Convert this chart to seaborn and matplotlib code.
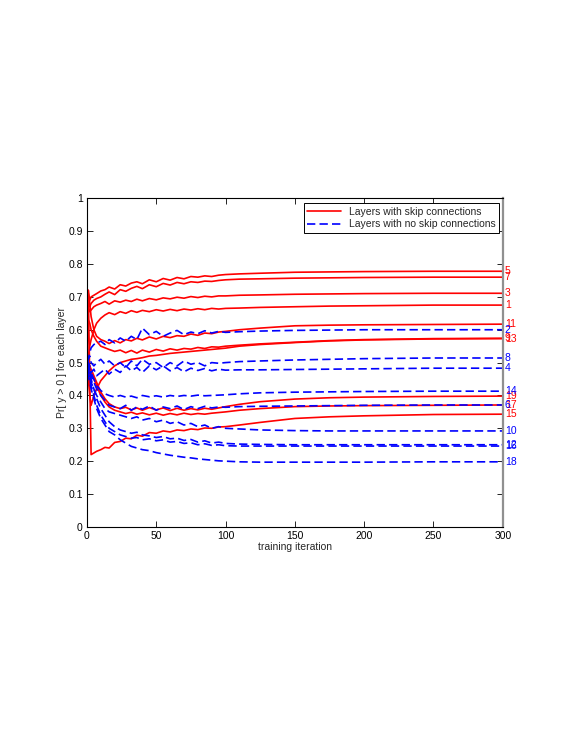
import numpy as np
import seaborn as sns
import matplotlib
matplotlib.use("Agg")
import matplotlib.pyplot as plt

ITER = [0, 1, 2, 3, 5, 7, 10, 13, 16, 20,
        24, 28, 32, 36, 40, 45, 50, 55, 60, 65,
        70, 75, 80, 85, 90, 95, 100, 110, 125, 150,
        175, 200, 250, 300]

# layers with skip connections (odd layers, red)
layer01 = [0.50, 0.52, 0.55, 0.57, 0.60, 0.62, 0.635, 0.645, 0.652, 0.646,
           0.655, 0.650, 0.658, 0.653, 0.659, 0.655, 0.661, 0.657, 0.662, 0.658,
           0.663, 0.660, 0.664, 0.661, 0.665, 0.663, 0.665, 0.666, 0.668, 0.670,
           0.672, 0.673, 0.675, 0.675]
layer03 = [0.62, 0.67, 0.655, 0.66, 0.67, 0.675, 0.68, 0.686, 0.678, 0.688,
           0.684, 0.690, 0.686, 0.693, 0.688, 0.695, 0.691, 0.697, 0.694, 0.699,
           0.696, 0.701, 0.698, 0.702, 0.700, 0.703, 0.703, 0.705, 0.706, 0.708,
           0.709, 0.710, 0.711, 0.711]
layer05 = [0.66, 0.71, 0.69, 0.70, 0.705, 0.71, 0.718, 0.722, 0.73, 0.724,
           0.737, 0.733, 0.742, 0.746, 0.740, 0.752, 0.746, 0.756, 0.751, 0.759,
           0.755, 0.762, 0.760, 0.764, 0.762, 0.766, 0.768, 0.77, 0.772, 0.775,
           0.776, 0.777, 0.778, 0.778]
layer07 = [0.64, 0.69, 0.67, 0.68, 0.69, 0.695, 0.70, 0.708, 0.715, 0.707,
           0.722, 0.717, 0.726, 0.732, 0.725, 0.737, 0.731, 0.741, 0.736, 0.744,
           0.740, 0.746, 0.744, 0.748, 0.747, 0.750, 0.752, 0.754, 0.755, 0.757,
           0.758, 0.759, 0.76, 0.76]
layer09 = [0.62, 0.63, 0.62, 0.60, 0.58, 0.565, 0.55, 0.545, 0.54, 0.534,
           0.538, 0.530, 0.537, 0.529, 0.538, 0.532, 0.540, 0.535, 0.542, 0.538,
           0.543, 0.541, 0.546, 0.543, 0.548, 0.547, 0.55, 0.553, 0.557, 0.562,
           0.567, 0.57, 0.573, 0.574]
layer11 = [0.62, 0.72, 0.68, 0.64, 0.60, 0.58, 0.57, 0.565, 0.558, 0.567,
           0.560, 0.570, 0.566, 0.574, 0.569, 0.578, 0.572, 0.580, 0.576, 0.582,
           0.580, 0.587, 0.583, 0.590, 0.588, 0.593, 0.595, 0.60, 0.605, 0.612,
           0.614, 0.615, 0.616, 0.617]
layer13 = [0.50, 0.45, 0.40, 0.37, 0.40, 0.42, 0.445, 0.46, 0.475, 0.49,
           0.50, 0.505, 0.51, 0.512, 0.515, 0.52, 0.522, 0.525, 0.528, 0.53,
           0.532, 0.534, 0.536, 0.538, 0.54, 0.542, 0.544, 0.55, 0.555, 0.561,
           0.566, 0.569, 0.572, 0.573]
layer15 = [0.48, 0.72, 0.45, 0.22, 0.225, 0.23, 0.235, 0.242, 0.24, 0.257,
           0.260, 0.270, 0.268, 0.279, 0.276, 0.287, 0.285, 0.292, 0.289, 0.295,
           0.293, 0.298, 0.296, 0.301, 0.300, 0.304, 0.305, 0.31, 0.318, 0.33,
           0.335, 0.338, 0.342, 0.343]
layer17 = [0.49, 0.49, 0.48, 0.47, 0.45, 0.43, 0.40, 0.38, 0.365, 0.355,
           0.35, 0.345, 0.349, 0.343, 0.347, 0.341, 0.346, 0.340, 0.345, 0.341,
           0.346, 0.342, 0.345, 0.343, 0.346, 0.348, 0.35, 0.355, 0.36, 0.366,
           0.368, 0.369, 0.37, 0.371]
layer19 = [0.50, 0.50, 0.49, 0.48, 0.46, 0.44, 0.41, 0.39, 0.375, 0.365,
           0.36, 0.364, 0.356, 0.362, 0.355, 0.363, 0.356, 0.362, 0.354, 0.361,
           0.355, 0.360, 0.356, 0.361, 0.358, 0.362, 0.366, 0.373, 0.381, 0.389,
           0.393, 0.395, 0.397, 0.398]

# layers without skip connections (even layers, blue)
layer02 = [0.50, 0.51, 0.53, 0.545, 0.555, 0.56, 0.565, 0.555, 0.57, 0.56,
           0.575, 0.565, 0.58, 0.57, 0.605, 0.585, 0.595, 0.58, 0.59, 0.598,
           0.585, 0.593, 0.588, 0.597, 0.59, 0.595, 0.592, 0.594, 0.596, 0.598,
           0.599, 0.60, 0.60, 0.60]
layer04 = [0.49, 0.50, 0.49, 0.47, 0.48, 0.46, 0.47, 0.48, 0.465, 0.48,
           0.47, 0.49, 0.475, 0.485, 0.47, 0.49, 0.478, 0.49, 0.475, 0.485,
           0.472, 0.483, 0.476, 0.482, 0.475, 0.48, 0.477, 0.478, 0.478, 0.479,
           0.48, 0.481, 0.483, 0.483]
layer06 = [0.51, 0.50, 0.48, 0.46, 0.44, 0.42, 0.40, 0.385, 0.37, 0.365,
           0.36, 0.37, 0.355, 0.365, 0.358, 0.368, 0.355, 0.365, 0.36, 0.368,
           0.357, 0.366, 0.36, 0.367, 0.362, 0.365, 0.364, 0.366, 0.367, 0.368,
           0.369, 0.37, 0.371, 0.371]
layer08 = [0.50, 0.51, 0.52, 0.50, 0.49, 0.50, 0.51, 0.495, 0.505, 0.49,
           0.50, 0.485, 0.505, 0.49, 0.51, 0.495, 0.50, 0.485, 0.50, 0.49,
           0.505, 0.495, 0.50, 0.49, 0.50, 0.498, 0.50, 0.503, 0.505, 0.508,
           0.51, 0.512, 0.514, 0.514]
layer10 = [0.49, 0.48, 0.46, 0.44, 0.42, 0.40, 0.38, 0.36, 0.35, 0.345,
           0.34, 0.335, 0.33, 0.335, 0.325, 0.33, 0.32, 0.325, 0.315, 0.32,
           0.31, 0.315, 0.305, 0.31, 0.30, 0.305, 0.30, 0.298, 0.295, 0.293,
           0.292, 0.292, 0.292, 0.292]
layer12 = [0.50, 0.49, 0.47, 0.45, 0.42, 0.39, 0.36, 0.34, 0.32, 0.305,
           0.295, 0.29, 0.285, 0.288, 0.28, 0.277, 0.272, 0.275, 0.268, 0.27,
           0.263, 0.266, 0.258, 0.262, 0.255, 0.258, 0.254, 0.252, 0.251, 0.25,
           0.25, 0.25, 0.25, 0.25]
layer14 = [0.50, 0.49, 0.48, 0.47, 0.45, 0.43, 0.415, 0.405, 0.40, 0.395,
           0.40, 0.395, 0.398, 0.393, 0.40, 0.396, 0.399, 0.395, 0.40, 0.397,
           0.40, 0.398, 0.401, 0.399, 0.40, 0.401, 0.402, 0.405, 0.408, 0.41,
           0.411, 0.412, 0.413, 0.413]
layer16 = [0.48, 0.47, 0.45, 0.43, 0.40, 0.37, 0.34, 0.32, 0.30, 0.29,
           0.28, 0.275, 0.27, 0.272, 0.265, 0.268, 0.262, 0.265, 0.258, 0.26,
           0.254, 0.256, 0.25, 0.253, 0.248, 0.25, 0.247, 0.246, 0.246, 0.246,
           0.246, 0.246, 0.246, 0.246]
layer18 = [0.47, 0.46, 0.44, 0.42, 0.39, 0.36, 0.33, 0.31, 0.29, 0.28,
           0.265, 0.255, 0.245, 0.24, 0.235, 0.232, 0.226, 0.222, 0.218, 0.215,
           0.212, 0.21, 0.207, 0.205, 0.203, 0.201, 0.20, 0.198, 0.197, 0.197,
           0.197, 0.197, 0.198, 0.198]

skipLayers = [(1, layer01), (3, layer03), (5, layer05), (7, layer07), (9, layer09),
              (11, layer11), (13, layer13), (15, layer15), (17, layer17), (19, layer19)]
noSkipLayers = [(2, layer02), (4, layer04), (6, layer06), (8, layer08), (10, layer10),
                (12, layer12), (14, layer14), (16, layer16), (18, layer18)]

sns.set_style("ticks")
plt.rcParams["font.family"] = ["Liberation Sans", "DejaVu Sans"]
plt.rcParams["xtick.direction"] = "in"
plt.rcParams["ytick.direction"] = "in"

fig = plt.figure(figsize=(5.72, 7.40), dpi=100)
ax = fig.add_axes([0.152, 0.288, 0.727, 0.444])

RED = (1.0, 0.0, 0.0)
BLUE = (0.0, 0.0, 1.0)

for i, (num, vals) in enumerate(skipLayers):
    sns.lineplot(x=ITER, y=vals, ax=ax, color=RED, linewidth=1.2,
                 label="Layers with skip connections" if i == 0 else None)
for i, (num, vals) in enumerate(noSkipLayers):
    sns.lineplot(x=ITER, y=vals, ax=ax, color=BLUE, linewidth=1.2,
                 label="Layers with no skip connections" if i == 0 else None)
for ln in ax.lines[len(skipLayers):]:
    ln.set_dashes((5, 2.5))

# layer numbers at the right end of each curve
for num, vals in skipLayers + noSkipLayers:
    ax.text(301.5, vals[-1], str(num), color=RED if num % 2 else BLUE,
            fontsize=7.5, va="center", ha="left", clip_on=False)

ax.set_xlim(0, 300)
ax.set_ylim(0, 1)
ax.set_xticks(np.arange(0, 301, 50))
ax.set_yticks(np.arange(0, 1.01, 0.1))
ax.set_yticklabels(["0", "0.1", "0.2", "0.3", "0.4", "0.5", "0.6", "0.7", "0.8", "0.9", "1"])
ax.tick_params(axis="both", which="both", labelsize=7.5, length=4, width=0.6,
               top=True, right=True, pad=3, colors="black")
ax.set_xlabel("training iteration", fontsize=7.5, labelpad=1)
ax.set_ylabel("Pr[ y > 0 ] for each layer", fontsize=7.5, labelpad=1)
for side in ["top", "left", "bottom"]:
    ax.spines[side].set_linewidth(0.8)
    ax.spines[side].set_color("black")
ax.spines["right"].set_linewidth(1.6)
ax.spines["right"].set_color("#909090")

leg = ax.legend(loc="upper right", fontsize=7.5, frameon=True, fancybox=False,
                handlelength=3.2, borderpad=0.35, labelspacing=0.25,
                bbox_to_anchor=(0.992, 0.985), borderaxespad=0.0)
leg.get_frame().set_edgecolor("black")
leg.get_frame().set_linewidth(0.7)
leg.get_frame().set_alpha(1.0)
leg.get_lines()[1].set_dashes((5, 2.5))

fig.savefig("out.png", dpi=100, facecolor="white")
